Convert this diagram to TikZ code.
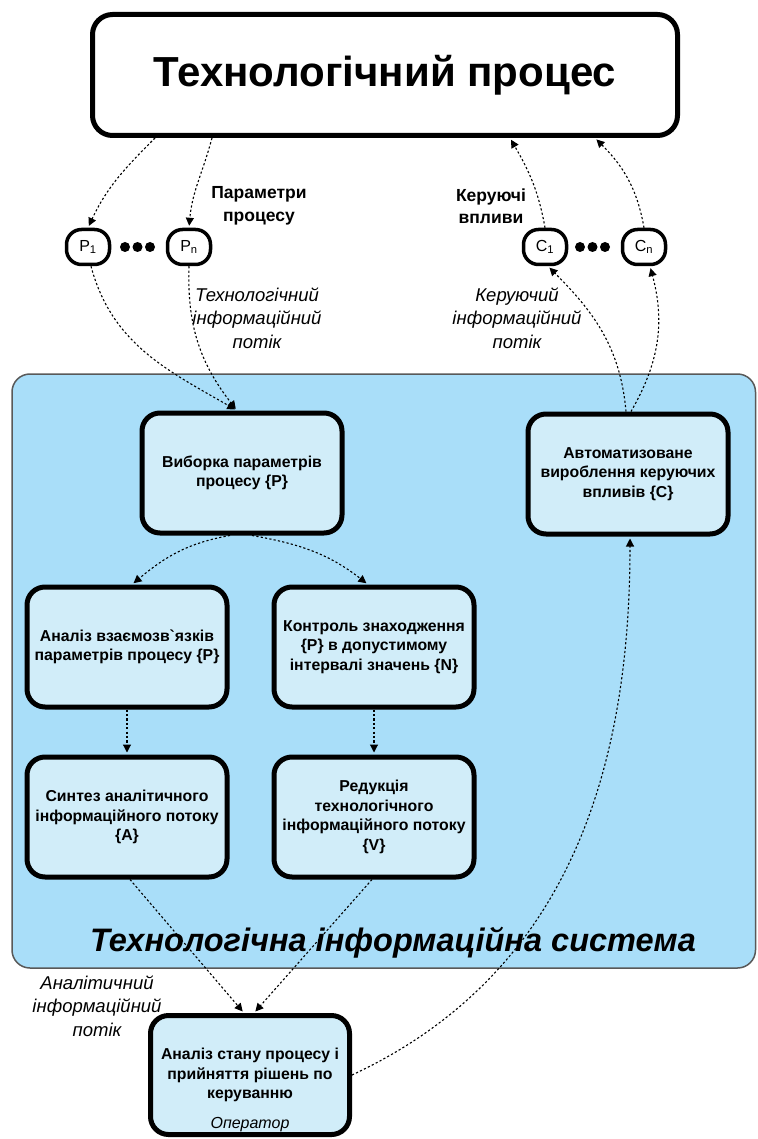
\documentclass[tikz,border=0pt]{standalone}
\usepackage{fontspec}
\setmainfont{Liberation Sans}
\usetikzlibrary{arrows.meta}

\definecolor{sysfill}{HTML}{A9DEF9}
\definecolor{blkfill}{HTML}{D1EDF9}

\begin{document}
\begin{tikzpicture}[x=1pt, y=1pt,
        blk/.style={draw, line width=5pt, rounded corners=18pt, fill=blkfill,
            minimum width=200pt, minimum height=120pt, align=center,
            font=\fontsize{15.8}{19.5}\selectfont\bfseries},
        sig/.style={draw, line width=3.5pt, rounded corners=15pt, fill=white,
            minimum width=43pt, minimum height=35pt, inner sep=0pt,
            font=\fontsize{16}{18}\selectfont},
        flow/.style={line width=1.1pt, dash pattern=on 2.2pt off 2.2pt,
            shorten >=2pt, -{Triangle[length=8pt, width=8pt]}},
        grouptxt/.style={align=center, font=\fontsize{17.5}{22.5}\selectfont\bfseries},
        flowtxt/.style={align=center, font=\fontsize{18.5}{23.5}\selectfont\itshape}]

    \useasboundingbox (0, 0) rectangle (757, -1139);

    % technological information system
    \draw[fill=sysfill, draw=black!65, line width=1.5pt, rounded corners=18pt]
        (12, -374) rectangle (755.5, -968);
    \node[font=\fontsize{32.5}{36}\selectfont\bfseries\itshape] (systxt) at (393, -943)
        {Технологічна інформаційна система};

    \node[draw, line width=5pt, rounded corners=20pt, minimum width=585pt, minimum height=121pt,
        font=\fontsize{42}{48}\selectfont\bfseries] (proc) at (385, -75) {Технологічний процес};

    % parameters and control actions
    \node[sig] (p1) at (88, -247) {P\textsubscript{1}};
    \node[sig] (pn) at (189, -247) {P\textsubscript{n}};
    \node[sig] (c1) at (545, -247) {C\textsubscript{1}};
    \node[sig] (cn) at (644, -247) {C\textsubscript{n}};
    \foreach \x in {125, 137.5, 150, 580, 592.5, 605}
        \fill (\x, -247) circle (5pt);

    \node[grouptxt] (partxt) at (259, -206) {Параметри\\процесу};
    \node[grouptxt] (ctrltxt) at (491, -206) {Керуючі\\впливи};
    \node[flowtxt] (techtxt) at (257, -318) {Технологічний\\інформаційний\\потік};
    \node[flowtxt] (ctrlflowtxt) at (517, -318) {Керуючий\\інформаційний\\потік};
    \node[flowtxt] (anatxt) at (97, -1006) {Аналітичний\\інформаційний\\потік};

    % blocks
    \node[blk] (sample) at (242, -473) {Виборка параметрів\\процесу \{P\}};
    \node[blk] (auto) at (628, -474) {Автоматизоване\\вироблення керуючих\\впливів \{C\}};
    \node[blk] (links) at (127, -647) {Аналіз взаємозв\textasciigrave язків\\параметрів процесу \{P\}};
    \node[blk] (range) at (374, -647) {Контроль знаходження\\\{P\} в допустимому\\інтервалі значень \{N\}};
    \node[blk] (synth) at (127, -817) {Синтез аналітичного\\інформаційного потоку\\\{A\}};
    \node[blk] (reduce) at (374, -817) {Редукція\\технологічного\\інформаційного потоку\\\{V\}};
    \node[blk, minimum width=199pt, minimum height=119pt] (oper) at (250, -1075)
        {Аналіз стану процесу і\\прийняття рішень по\\керуванню};
    \node[font=\fontsize{16}{19}\selectfont\itshape] (opertxt) at (250, -1125) {Оператор};

    % information flows
    \draw[flow] ([xshift=-230pt]proc.south) to[out=-135, in=65] (p1.north);
    \draw[flow] ([xshift=-173pt]proc.south) to[out=-105, in=85] (pn.north);
    \draw[flow] (c1.north) to[out=100, in=-60] ([xshift=125pt]proc.south);
    \draw[flow] (cn.north) to[out=100, in=-45] ([xshift=210pt]proc.south);
    \draw[flow] ([xshift=3pt]p1.south) to[out=-75, in=150] ([xshift=-5pt]sample.north);
    \draw[flow] (pn.south) to[out=-92, in=128] ([xshift=-5pt]sample.north);
    \draw[flow] ([xshift=-2pt]auto.north) to[out=95, in=-45] ([xshift=3pt]c1.south);
    \draw[flow] ([xshift=3pt]auto.north) to[out=60, in=-75] ([xshift=6pt]cn.south);
    \draw[flow] ([xshift=-12pt]sample.south) to[out=190, in=40] ([xshift=5pt]links.north);
    \draw[flow] ([xshift=10pt]sample.south) to[out=-10, in=142] ([xshift=-6pt]range.north);
    \draw[flow] (links.south) -- (synth.north);
    \draw[flow] (range.south) -- (reduce.north);
    \draw[flow] ([xshift=3pt]synth.south) -- ([xshift=-6pt]oper.north);
    \draw[flow] ([xshift=-2pt]reduce.south) -- ([xshift=4pt]oper.north);
    \draw[flow] (oper.east) to[out=25, in=-90] ([xshift=2pt]auto.south);
\end{tikzpicture}
\end{document}
